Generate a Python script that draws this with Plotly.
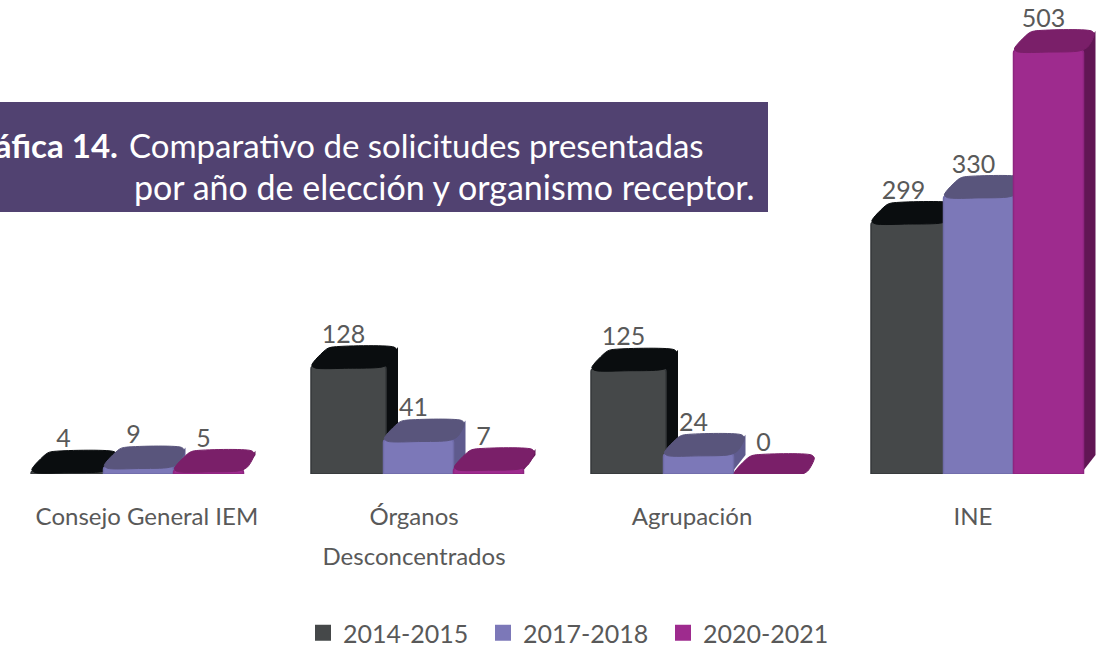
import plotly.graph_objects as go

categories = ["Consejo General IEM", "Órganos<br>Desconcentrados", "Agrupación", "INE"]
series_names = ["2014-2015", "2017-2018", "2020-2021"]
values_2014 = [4, 128, 125, 299]
values_2017 = [9, 41, 24, 330]
values_2020 = [5, 7, 0, 503]
label_positions = [0.03, 0.984, 1.977, 2.98]

front_colors = ["#454849", "#7c78b8", "#9e2b8e"]
edge_colors = ["#34373a", "#6f6ba8", "#8e2580"]
top_colors = ["#0a0d0f", "#59557c", "#7a1f69"]
side_colors = ["#0a0d0f", "#5f5b8e", "#611654"]

W, H = 1096, 649
BASE_PX = 474
PX_PER_CAT = 280
PX_PER_VAL = 0.843
X_RANGE = [-138.5 / PX_PER_CAT, (W - 138.5) / PX_PER_CAT]
Y_RANGE = [0, BASE_PX / PX_PER_VAL]
SLOT = 0.25
BAR_WIDTHS = [75 / PX_PER_CAT, 70 / PX_PER_CAT, 70 / PX_PER_CAT]
DXL, DXR, DY = 17 / PX_PER_CAT, 12 / PX_PER_CAT, 19 / PX_PER_VAL
LABEL_DX, LABEL_DY = -5 / PX_PER_CAT, -2 / PX_PER_VAL
GREY = "#595959"
FONT = "Lato"


def paper_y(px):
    return (BASE_PX - px) / BASE_PX


def top_face(x0, x1, v):
    rx, ry = 4 / PX_PER_CAT, 3 / PX_PER_VAL
    xs = [x0 + rx, (x0 + x1) / 2, x1 - rx, x1 + 0.35 * DXR, x1 + DXR - rx * 0.3, x1 + DXR - rx,
          x0 + DXL + rx, x0 + DXL - rx * 0.3, x0 + rx * 0.2, x0 + rx]
    ys = [v - ry * 0.6, v - ry * 0.7, v - ry * 0.3, v + ry, v + DY - ry, v + DY,
          v + DY, v + DY - ry * 0.6, v + ry * 0.3, v - ry * 0.6]
    return xs, ys


def side_face(x1, v):
    return [x1 - 0.01, x1 + DXR, x1 + DXR, x1 - 0.01, x1 - 0.01], [v, v + DY, DY, 0, v]


fig = go.Figure()
all_values = [values_2014, values_2017, values_2020]

for j, vals in enumerate(all_values):
    xa_back = f"x{2 * j + 2}"
    ya_back = f"y{2 * j + 2}"
    xa_front = f"x{2 * j + 3}"
    ya_front = f"y{2 * j + 3}"
    bw = BAR_WIDTHS[j]
    centers = [i + (j - 1) * SLOT for i in range(len(vals))]
    for c, v in zip(centers, vals):
        x1 = c + bw / 2
        sx, sy = side_face(x1, v)
        fig.add_trace(go.Scatter(x=sx, y=sy, mode="lines", fill="toself", fillcolor=side_colors[j],
                                 line=dict(width=0, color=side_colors[j]), xaxis=xa_back, yaxis=ya_back,
                                 showlegend=False, hoverinfo="skip"))
    fig.add_trace(go.Bar(x=centers, y=vals, width=bw, marker=dict(color=front_colors[j], cornerradius=3,
                         line=dict(color=edge_colors[j], width=1.5)),
                         xaxis=xa_front, yaxis=ya_front, showlegend=False, name=series_names[j]))
    for c, v in zip(centers, vals):
        tx, ty = top_face(c - bw / 2, c + bw / 2, v)
        fig.add_trace(go.Scatter(x=tx, y=ty, mode="lines", fill="toself", fillcolor=top_colors[j],
                                 line=dict(width=1, color=top_colors[j], shape="spline", smoothing=0.8),
                                 xaxis=xa_front, yaxis=ya_front, showlegend=False, hoverinfo="skip"))
    fig.add_trace(go.Scatter(x=[c + LABEL_DX for c in centers], y=[v + DY + LABEL_DY for v in vals], mode="text",
                             text=[str(v) for v in vals],
                             textposition="top center", textfont=dict(family=FONT, size=25, color=GREY),
                             xaxis=xa_front, yaxis=ya_front, showlegend=False, hoverinfo="skip",
                             cliponaxis=False))

for j, name in enumerate(series_names):
    fig.add_trace(go.Scatter(x=[None], y=[None], mode="markers", name=name,
                             marker=dict(symbol="square", size=17, color=front_colors[j],
                                         line=dict(width=0))))

tick_text = ["<br>".join(f"<span style='font-size:24px'>{p}</span>" for p in c.split("<br>")) for c in categories]

layout = dict(
    width=W, height=H, autosize=False, paper_bgcolor="white", plot_bgcolor="rgba(0,0,0,0)",
    margin=dict(l=0, r=0, t=0, b=H - BASE_PX, pad=0), barmode="overlay",
    font=dict(family=FONT, color=GREY),
    xaxis=dict(range=X_RANGE, tickmode="array", tickvals=label_positions, ticktext=tick_text,
               tickfont=dict(family=FONT, size=31, color=GREY), ticklen=0, showgrid=False, zeroline=False,
               showline=False, ticklabelstandoff=19),
    yaxis=dict(range=Y_RANGE, visible=False, showgrid=False, zeroline=False),
    legend=dict(orientation="h", x=303 / W, xanchor="left", yref="container", y=1 - 633 / H, yanchor="middle",
                font=dict(family=FONT, size=25, color=GREY), itemwidth=30, bgcolor="rgba(0,0,0,0)",
                entrywidth=135, entrywidthmode="pixels"),
    shapes=[dict(type="rect", xref="paper", yref="paper", x0=0, x1=768 / W, y0=paper_y(212), y1=paper_y(102),
                 fillcolor="#514271", line=dict(width=0), layer="below")],
    annotations=[
        dict(text="<b>Gráfica 14.</b>", xref="paper", yref="paper", x=120 / W, y=paper_y(145), xanchor="right",
             yanchor="middle", showarrow=False, font=dict(family=FONT, size=33, color="white")),
        dict(text="Comparativo de solicitudes presentadas", xref="paper", yref="paper", x=127 / W, y=paper_y(145),
             xanchor="left", yanchor="middle", showarrow=False, font=dict(family=FONT, size=33, color="white")),
        dict(text="por año de elección y organismo receptor.", xref="paper", yref="paper", x=132 / W, y=paper_y(186),
             xanchor="left", yanchor="middle", showarrow=False, font=dict(family=FONT, size=34, color="white")),
    ],
)
for n in range(2, 8):
    layout[f"xaxis{n}"] = dict(range=X_RANGE, overlaying="x", visible=False, anchor=f"y{n}")
    layout[f"yaxis{n}"] = dict(range=Y_RANGE, overlaying="y", visible=False, anchor=f"x{n}")
fig.update_layout(**layout)

fig.write_html("out.html", config=dict(displayModeBar=False), post_script="document.body.style.margin='0';")
